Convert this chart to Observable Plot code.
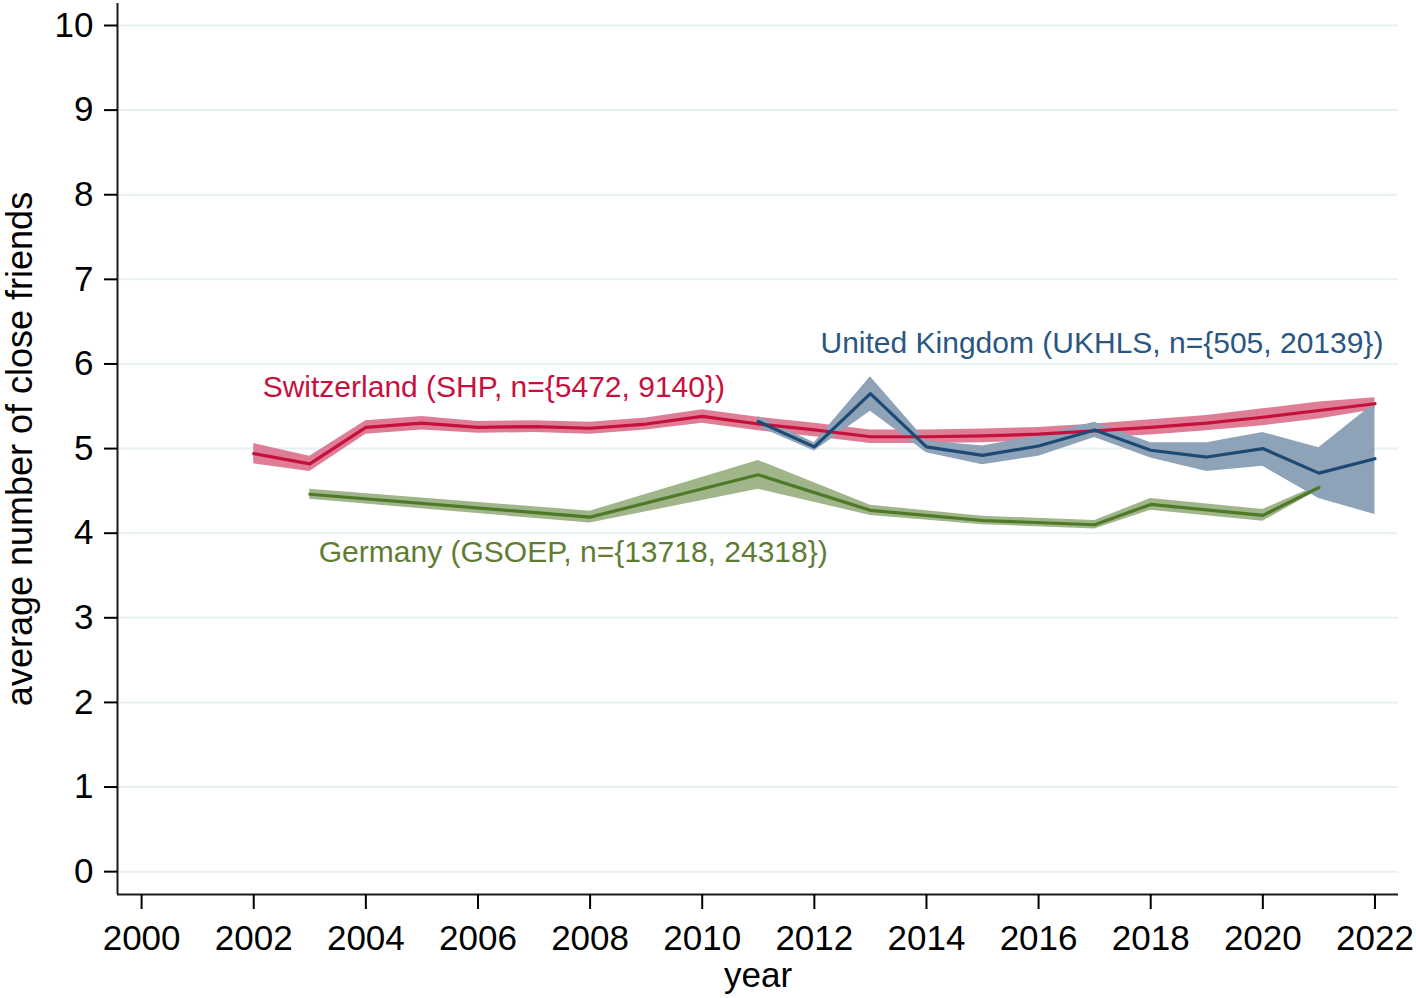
<!DOCTYPE html>
<html>
<head>
<meta charset="utf-8">
<script src="https://cdn.jsdelivr.net/npm/d3@7"></script>
<script src="https://cdn.jsdelivr.net/npm/@observablehq/plot@0.6"></script>
<style>
  html, body { margin: 0; padding: 0; background: #ffffff; }
  #chart { width: 1416px; height: 998px; }
</style>
</head>
<body>
<div id="chart"></div>
<script>
// ---- data ----
const swissYears = [2002, 2003, 2004, 2005, 2006, 2007, 2008, 2009, 2010, 2011, 2012, 2013, 2014, 2015, 2016, 2017, 2018, 2019, 2020, 2021, 2022];
const swissMean  = [4.94, 4.82, 5.25, 5.30, 5.25, 5.26, 5.24, 5.29, 5.38, 5.29, 5.22, 5.14, 5.14, 5.15, 5.17, 5.21, 5.25, 5.30, 5.37, 5.45, 5.53];
const swissLo    = [4.82, 4.73, 5.17, 5.22, 5.18, 5.19, 5.17, 5.22, 5.30, 5.21, 5.14, 5.06, 5.06, 5.07, 5.09, 5.13, 5.16, 5.21, 5.27, 5.35, 5.46];
const swissHi    = [5.06, 4.91, 5.33, 5.38, 5.32, 5.33, 5.31, 5.36, 5.46, 5.37, 5.30, 5.22, 5.22, 5.23, 5.25, 5.29, 5.34, 5.39, 5.47, 5.55, 5.60];

const ukYears = [2011, 2012, 2013, 2014, 2015, 2016, 2017, 2018, 2019, 2020, 2021, 2022];
const ukMean  = [5.32, 5.02, 5.65, 5.02, 4.92, 5.03, 5.22, 4.98, 4.90, 5.00, 4.71, 4.88];
const ukLo    = [5.26, 4.97, 5.44, 4.95, 4.81, 4.91, 5.13, 4.89, 4.73, 4.79, 4.41, 4.22];
const ukHi    = [5.38, 5.07, 5.85, 5.09, 5.03, 5.15, 5.31, 5.07, 5.07, 5.19, 5.01, 5.54];

const deYears = [2003, 2008, 2011, 2013, 2015, 2017, 2018, 2020, 2021];
const deMean  = [4.46, 4.19, 4.69, 4.27, 4.15, 4.10, 4.34, 4.21, 4.54];
const deLo    = [4.40, 4.12, 4.52, 4.21, 4.10, 4.05, 4.27, 4.14, 4.51];
const deHi    = [4.52, 4.26, 4.86, 4.33, 4.20, 4.15, 4.41, 4.28, 4.57];

const seriesLabels = ["Switzerland (SHP, n={5472, 9140})", "United Kingdom (UKHLS, n={505, 20139})", "Germany (GSOEP, n={13718, 24318})"];
const labelYears  = [2002.16, 2012.11, 2003.16];
const labelValues = [5.72, 6.24, 3.77];

const xTicks = [2000, 2002, 2004, 2006, 2008, 2010, 2012, 2014, 2016, 2018, 2020, 2022];
const yTicks = [0, 1, 2, 3, 4, 5, 6, 7, 8, 9, 10];
const xDomain = [1999.57, 2022.42];
const yDomain = [-0.27, 10.26];
const xTitle = "year";
const yTitle = "average number of close friends";

// ---- build tables ----
const mk = (years, mean, lo, hi) => years.map((year, i) => ({year, mean: mean[i], lo: lo[i], hi: hi[i]}));
const swiss = mk(swissYears, swissMean, swissLo, swissHi);
const uk = mk(ukYears, ukMean, ukLo, ukHi);
const de = mk(deYears, deMean, deLo, deHi);
const labels = seriesLabels.map((text, i) => ({text, year: labelYears[i], value: labelValues[i]}));
const labelColors = ["#c8103e", "#2a5683", "#5e7d33"];

const font = "'Liberation Sans', Arial, Helvetica, sans-serif";

const chart = Plot.plot({
  width: 1416,
  height: 998,
  marginLeft: 117,
  marginRight: 18,
  marginTop: 3,
  marginBottom: 104,
  x: {domain: xDomain},
  y: {domain: yDomain},
  style: {fontFamily: font, background: "#ffffff", color: "#000000"},
  marks: [
    Plot.gridY(yTicks, {stroke: "#e7f0f2", strokeOpacity: 1, strokeWidth: 2}),
    Plot.areaY(swiss, {x: "year", y1: "lo", y2: "hi", fill: "#e07d96", fillOpacity: 1}),
    Plot.areaY(de, {x: "year", y1: "lo", y2: "hi", fill: "#a1b58b", fillOpacity: 1}),
    Plot.areaY(uk, {x: "year", y1: "lo", y2: "hi", fill: "#8ea2b8", fillOpacity: 1}),
    Plot.line(swiss, {x: "year", y: "mean", stroke: "#c4103c", strokeWidth: 3.2}),
    Plot.line(de, {x: "year", y: "mean", stroke: "#4e7a27", strokeWidth: 3.2}),
    Plot.line(uk, {x: "year", y: "mean", stroke: "#1d4a74", strokeWidth: 3.2}),
    Plot.ruleX([xDomain[0]], {stroke: "#1a1a1a", strokeWidth: 2}),
    Plot.ruleY([yDomain[0]], {stroke: "#1a1a1a", strokeWidth: 2}),
    Plot.axisY(yTicks, {tickSize: 13, tickPadding: 11, fontSize: 35, strokeWidth: 2, label: null, tickFormat: d => String(d)}),
    Plot.axisX(xTicks, {tickSize: 15, tickPadding: 16, fontSize: 35, strokeWidth: 2, label: null, tickFormat: d => String(d)}),
    Plot.text(labels, {x: "year", y: "value", text: "text", textAnchor: "start", fontSize: 30, fill: (d) => labelColors[labels.indexOf(d)]}),
    Plot.text([xTitle], {frameAnchor: "bottom", dy: 92, fontSize: 35, fill: "#000"}),
    Plot.text([yTitle], {frameAnchor: "left", textAnchor: "middle", dx: -97, rotate: -90, fontSize: 36, fill: "#000"})
  ]
});

document.getElementById("chart").appendChild(chart);
</script>
</body>
</html>
